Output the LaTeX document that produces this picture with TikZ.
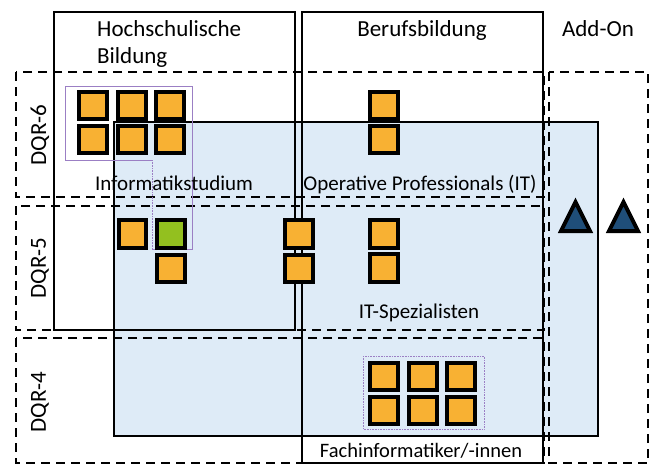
\documentclass[tikz,border=0pt]{standalone}
\usepackage{fontspec}
\setmainfont{Carlito}
\definecolor{qorange}{HTML}{F8B133}
\definecolor{qgreen}{HTML}{93C01F}
\definecolor{qblue}{HTML}{DEEBF7}
\definecolor{qnavy}{HTML}{1F4E79}
\definecolor{qpurple}{HTML}{9B7FC4}
\begin{document}
\begin{tikzpicture}[x=1pt,y=-1pt,
  font=\fontsize{21}{26}\selectfont,
  qual/.style={rectangle, draw=black, line width=4pt, fill=qorange, minimum size=27.5pt, inner sep=0pt},
  level/.style={draw=black, line width=1.6pt, dash pattern=on 9pt off 6pt},
  pillar/.style={draw=black, line width=1.6pt},
  label/.style={inner sep=0pt, anchor=base},
  heading/.style={inner sep=0pt, anchor=base, font=\fontsize{23}{27}\selectfont}]
\useasboundingbox (0,0) rectangle (654,464);
% blue area
\fill[qblue] (114,122) rectangle (598,436);
\draw[pillar] (114,436) -- (114,122) -- (598,122) -- (598,436) -- cycle;
% DQR levels
\draw[level] (16,72) rectangle (544,197);
\draw[level] (16,206) rectangle (544,330);
\draw[level] (16,338) rectangle (544,463);
\draw[level] (549,72) rectangle (648,463);
% pillars
\draw[pillar] (54,12) rectangle (295,330);
\draw[pillar] (302,12) rectangle (543,463);
% purple groups
\draw[qpurple, line width=0.8pt] (152,160) -- (65,160) -- (65,86) -- (192,86) -- (192,249) -- (152,249);
\draw[qpurple, line width=0.6pt, densely dotted] (152,160) -- (152,249);
\draw[qpurple, line width=0.6pt, densely dotted] (363,356) rectangle (484,429);
% headings
\node[heading, anchor=base west] (hs1) at (97,36) {Hochschulische};
\node[heading, anchor=base west] (hs2) at (97,63) {Bildung};
\node[heading] (bb) at (422,36) {Berufsbildung};
\node[heading] (ao) at (598,36) {Add-On};
\node[heading, anchor=center, rotate=90] (dqr6) at (40,135) {DQR-6};
\node[heading, anchor=center, rotate=90] (dqr5) at (40,268) {DQR-5};
\node[heading, anchor=center, rotate=90] (dqr4) at (40,402) {DQR-4};
\node[label] (inf) at (174,190) {Informatikstudium};
\node[label] (op) at (420,190) {Operative Professionals (IT)};
\node[label] (its) at (419,318) {IT-Spezialisten};
\node[label, font=\fontsize{20.5}{25}\selectfont] (fi) at (421,457) {Fachinformatiker/-innen};
% qualifications
\node[qual] (q1) at (93,105.5){};
\node[qual] (q2) at (132,105.5){};
\node[qual] (q3) at (170,105.5){};
\node[qual] (q4) at (93,139.5){};
\node[qual] (q5) at (132,139.5){};
\node[qual] (q6) at (170,139.5){};
\node[qual] (q7) at (132.5,234){};
\node[qual, fill=qgreen] (q8) at (171,234){};
\node[qual] (q9) at (171,268.5){};
\node[qual] (q10) at (299,234){};
\node[qual] (q11) at (299,268.5){};
\node[qual] (q12) at (384,105.5){};
\node[qual] (q13) at (384,139.5){};
\node[qual] (q14) at (384,234){};
\node[qual] (q15) at (384,268){};
\node[qual] (q16) at (384,376.5){};
\node[qual] (q17) at (423,376.5){};
\node[qual] (q18) at (461,376.5){};
\node[qual] (q19) at (384,410.5){};
\node[qual] (q20) at (423,410.5){};
\node[qual] (q21) at (461,410.5){};
% add-ons
\draw[fill=qnavy, line width=4pt, line join=miter] (561,231) -- (575.5,202) -- (590,231) -- cycle;
\draw[fill=qnavy, line width=4pt, line join=miter] (609,231) -- (623.5,202) -- (638,231) -- cycle;
\end{tikzpicture}
\end{document}
